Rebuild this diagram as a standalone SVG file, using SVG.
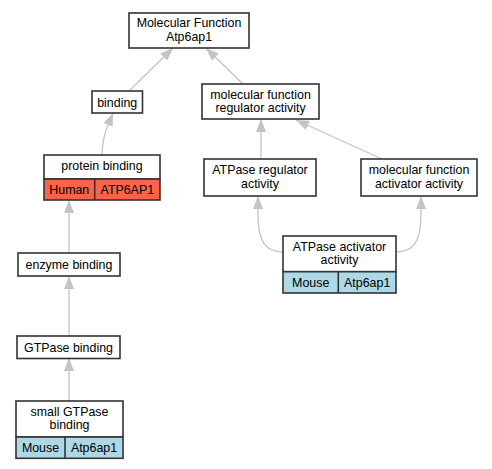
<svg xmlns="http://www.w3.org/2000/svg" width="492" height="469" viewBox="0 0 492 469">
<style>
.box{fill:#ffffff;stroke:#333333;stroke-width:1.6}
.human{fill:#fa6347;stroke:#333333;stroke-width:1.6}
.mouse{fill:#add8e6;stroke:#333333;stroke-width:1.6}
.div{stroke:#333333;stroke-width:1.6}
text{font-family:"Liberation Sans",Arial,sans-serif;font-size:12.4px;fill:#000;text-anchor:middle}
.edge{fill:none;stroke:#c4c4c4;stroke-width:1.3}
</style>
<defs>
<marker id="arr" viewBox="0 0 13 10" refX="13" refY="5" markerWidth="13" markerHeight="10" markerUnits="userSpaceOnUse" orient="auto">
<path d="M0,0 L13,5 L0,10 z" fill="#c4c4c4"/>
</marker>
</defs>
<rect width="492" height="469" fill="#ffffff"/>
<g id="edges">
<path class="edge" d="M129,91 L173,48" marker-end="url(#arr)"/>
<path class="edge" d="M243,84 L206,48" marker-end="url(#arr)"/>
<path class="edge" d="M102,155 C102,145 104,137 106,130 L113,113" marker-end="url(#arr)"/>
<path class="edge" d="M69,253 L69,200" marker-end="url(#arr)"/>
<path class="edge" d="M69,336 L69,276" marker-end="url(#arr)"/>
<path class="edge" d="M69,401 L69,358" marker-end="url(#arr)"/>
<path class="edge" d="M261,159 L261,119" marker-end="url(#arr)"/>
<path class="edge" d="M382,159 L296,120" marker-end="url(#arr)"/>
<path class="edge" d="M283,252 C266,252 258,242 258,215 L258,196" marker-end="url(#arr)"/>
<path class="edge" d="M396,252 C413,252 421,242 421,215 L421,196" marker-end="url(#arr)"/>
</g>
<g id="n_mf">
<rect class="box" x="129" y="13" width="120" height="35"/>
<text x="189" y="27">Molecular Function</text>
<text x="189" y="40.5">Atp6ap1</text>
</g>
<g id="n_binding">
<rect class="box" x="92" y="91" width="50.5" height="22"/>
<text x="117.2" y="106.5">binding</text>
</g>
<g id="n_mfra">
<rect class="box" x="202" y="84" width="117" height="35"/>
<text x="260.5" y="98.5">molecular function</text>
<text x="260.5" y="112">regulator activity</text>
</g>
<g id="n_protein">
<rect class="box" x="44" y="155" width="116" height="24"/>
<rect class="human" x="44" y="179" width="116" height="21"/>
<line class="div" x1="94.7" y1="179" x2="94.7" y2="200"/>
<text x="102" y="170">protein binding</text>
<text x="69.3" y="193.5">Human</text>
<text x="127.3" y="193.5">ATP6AP1</text>
</g>
<g id="n_atpreg">
<rect class="box" x="204" y="159" width="112" height="37"/>
<text x="260" y="174">ATPase regulator</text>
<text x="260" y="187.5">activity</text>
</g>
<g id="n_mfaa">
<rect class="box" x="361" y="159" width="116" height="37"/>
<text x="419" y="174">molecular function</text>
<text x="419" y="187.5">activator activity</text>
</g>
<g id="n_enzyme">
<rect class="box" x="18" y="253" width="102" height="23"/>
<text x="69" y="268.5">enzyme binding</text>
</g>
<g id="n_aaa">
<rect class="box" x="283" y="236" width="113" height="35.7"/>
<rect class="mouse" x="283" y="271.7" width="113" height="21.3"/>
<line class="div" x1="338.3" y1="271.7" x2="338.3" y2="293"/>
<text x="339.5" y="250.5">ATPase activator</text>
<text x="339.5" y="264">activity</text>
<text x="310.7" y="286.5">Mouse</text>
<text x="367.2" y="286.5">Atp6ap1</text>
</g>
<g id="n_gtpase">
<rect class="box" x="17" y="336" width="103" height="22.5"/>
<text x="68.5" y="351.5">GTPase binding</text>
</g>
<g id="n_small">
<rect class="box" x="16" y="401" width="107" height="36"/>
<rect class="mouse" x="16" y="437" width="107" height="21.3"/>
<line class="div" x1="65" y1="437" x2="65" y2="458.3"/>
<text x="69.5" y="415.5">small GTPase</text>
<text x="69.5" y="429">binding</text>
<text x="40.5" y="451.7">Mouse</text>
<text x="94" y="451.7">Atp6ap1</text>
</g>
</svg>
